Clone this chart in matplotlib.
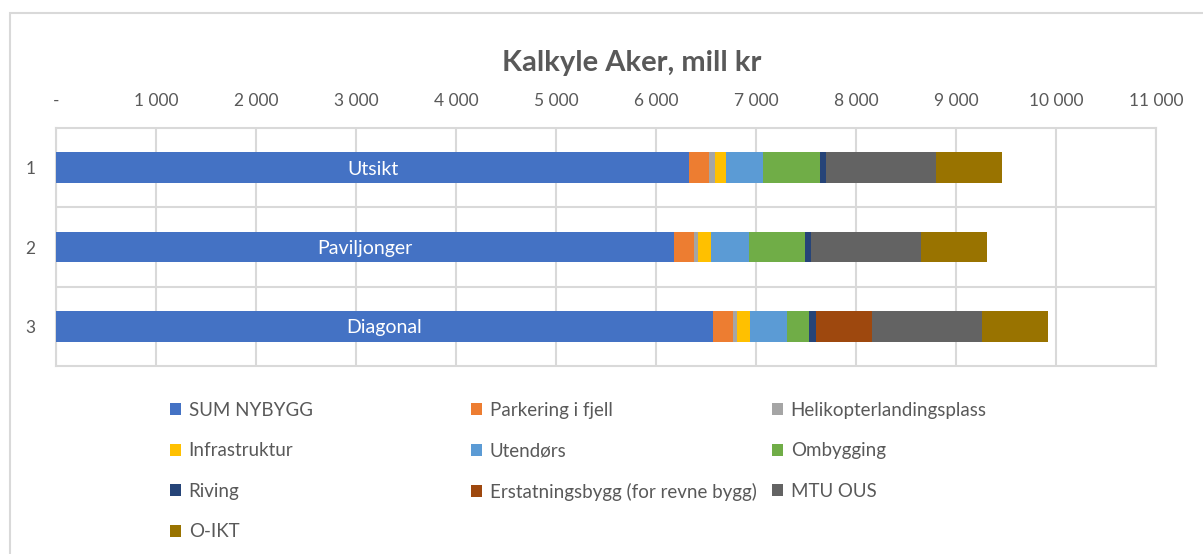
import numpy as np
import matplotlib
matplotlib.use('Agg')
import matplotlib.pyplot as plt
from matplotlib.ticker import FuncFormatter
from matplotlib.patches import Rectangle

plt.rcParams['font.family'] = ['Lato', 'DejaVu Sans']

# kalkyle per alternativ, mill kr
rows = ['1', '2', '3']
alternativ = ['Utsikt', 'Paviljonger', 'Diagonal']
series = ['SUM NYBYGG', 'Parkering i fjell', 'Helikopterlandingsplass',
          'Infrastruktur', 'Utendørs', 'Ombygging', 'Riving',
          'Erstatningsbygg (for revne bygg)', 'MTU OUS', 'O-IKT']
sum_nybygg = [6333, 6177, 6570]
parkering = [200, 200, 200]
helikopter = [57, 47, 43]
infrastruktur = [110, 123, 124]
utendors = [373, 383, 373]
ombygging = [570, 560, 223]
riving = [57, 57, 67]
erstatning = [0, 0, 560]
mtu_ous = [1100, 1100, 1103]
o_ikt = [663, 660, 660]
colors = ['#4472C4', '#ED7D31', '#A5A5A5', '#FFC000', '#5B9BD5',
          '#70AD47', '#264478', '#9E480E', '#636363', '#997300']

values = [sum_nybygg, parkering, helikopter, infrastruktur, utendors,
          ombygging, riving, erstatning, mtu_ous, o_ikt]

grey = '#595959'
gridc = '#D9D9D9'

fig = plt.figure(figsize=(12.03, 5.54), dpi=100)
ax = fig.add_axes([56/1203, 1-366/554, 1100/1203, 238/554])

y = np.arange(1, len(rows)+1)
left = np.zeros(len(rows))
handles = []
for vals, name, col in zip(values, series, colors):
  vals = np.array(vals, dtype=float)
  b = ax.barh(y, vals, left=left, height=0.39, color=col, label=name, zorder=3)
  handles.append(b)
  left = left + vals

# navn paa alternativ midt i nybygg-delen
for yi, name, w in zip(y, alternativ, sum_nybygg):
  ax.text(w/2, yi+0.02, name, color='white', fontsize=14, ha='center', va='center', zorder=4)

ax.set_xlim(0, 11000)
ax.set_ylim(3.5, 0.5)
ax.set_xticks(np.arange(0, 11001, 1000))
ax.xaxis.set_major_formatter(FuncFormatter(
  lambda v, p: '-' if v == 0 else '{:,.0f}'.format(v).replace(',', ' ')))
ax.set_yticks(y)
ax.set_yticklabels(rows)
ax.xaxis.tick_top()
ax.tick_params(axis='x', length=0, pad=13.5, labelsize=12.5, labelcolor=grey)
ax.tick_params(axis='y', length=0, pad=15, labelsize=12.5, labelcolor=grey)

ax.grid(axis='x', color=gridc, linewidth=1.5, zorder=0)
for yb in [1.5, 2.5]:
  ax.axhline(yb, color=gridc, linewidth=1.5, zorder=0)
for s in ax.spines.values():
  s.set_color(gridc)
  s.set_linewidth(1.5)

fig.text(632/1203, 1-63/554, 'Kalkyle Aker, mill kr', ha='center', va='center',
         fontsize=21, fontweight='bold', color=grey)

# legend fylles radvis i tre kolonner
cols = [[0, 3, 6, 9], [1, 4, 7], [2, 5, 8]]
xpos = [170, 471, 772]
for idx, xp in zip(cols, xpos):
  leg = fig.legend([handles[i] for i in idx], [series[i] for i in idx],
                   loc='upper left', bbox_to_anchor=(xp/1203, 1-402/554),
                   frameon=False, fontsize=13.5, labelcolor=grey,
                   handlelength=0.6, handleheight=0.6, handletextpad=0.4,
                   labelspacing=1.25, borderaxespad=0, borderpad=0)

# ramme rundt diagrammet
fig.add_artist(Rectangle((10/1203, -0.1), 1.2, 1.1-13/554, transform=fig.transFigure,
                         fill=False, edgecolor=gridc, linewidth=1.5, clip_on=False))

plt.savefig('out.png', dpi=100)
